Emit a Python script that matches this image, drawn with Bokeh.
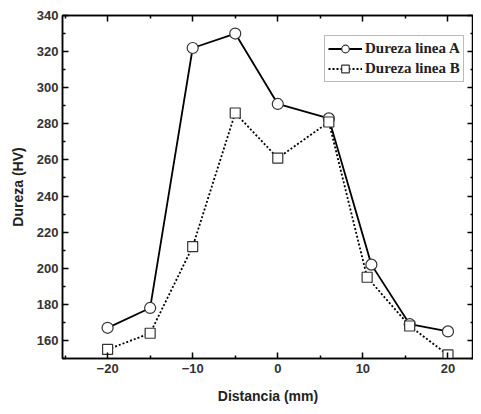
from bokeh.plotting import figure
from bokeh.models import LinearAxis, Range1d, Legend, LegendItem, FixedTicker, CustomJSTickFormatter
from bokeh.embed import file_html
from bokeh.resources import INLINE

# Data
dist_a = [-20, -15, -10, -5, 0, 6, 11, 15.5, 20]
dureza_a = [167, 178, 322, 330, 291, 283, 202, 169, 165]
dist_b = [-20, -15, -10, -5, 0, 6, 10.5, 15.5, 20]
dureza_b = [155, 164, 212, 286, 261, 281, 195, 168, 152]
label_a = "Dureza linea A"
label_b = "Dureza linea B"
x_ticks = [-20, -10, 0, 10, 20]
x_minor = [-25, -15, -5, 5, 15]
y_ticks = [160, 180, 200, 220, 240, 260, 280, 300, 320, 340]
y_minor = [150, 170, 190, 210, 230, 250, 270, 290, 310, 330]

p = figure(width=473, height=406, output_backend="svg", toolbar_location=None,
           x_range=Range1d(-25.3, 23), y_range=Range1d(150, 340),
           x_axis_label="Distancia (mm)", y_axis_label="Dureza (HV)")
p.background_fill_color = "white"
p.border_fill_color = "white"
p.grid.visible = False
p.outline_line_color = "black"
p.outline_line_width = 1.5
p.min_border_top = 15
p.min_border_right = 0
p.min_border_left = 62

def style_axis(ax, labels=True):
    ax.major_tick_in = 6
    ax.major_tick_out = 0
    ax.minor_tick_in = 3
    ax.minor_tick_out = 0
    ax.axis_line_width = 1.5
    ax.major_tick_line_width = 1.5
    ax.minor_tick_line_width = 1.5
    ax.major_label_text_font = "Liberation Sans"
    ax.major_label_text_font_style = "bold"
    ax.major_label_text_font_size = "13px"
    ax.major_label_text_color = "#333333"
    ax.axis_label_text_font = "Liberation Sans"
    ax.axis_label_text_font_style = "bold"
    ax.axis_label_text_font_size = "14px"
    ax.axis_label_text_color = "#222222"
    if not labels:
        ax.formatter = CustomJSTickFormatter(code="return ''")
        ax.major_label_text_font_size = "1px"
        ax.major_label_standoff = 0

xa = p.xaxis[0]
ya = p.yaxis[0]
xa.ticker = FixedTicker(ticks=x_ticks, minor_ticks=x_minor)
ya.ticker = FixedTicker(ticks=y_ticks, minor_ticks=y_minor)
style_axis(xa)
style_axis(ya)
xa.axis_label_standoff = 12
ya.axis_label_standoff = 8
ya.major_label_standoff = 4

top = LinearAxis(ticker=FixedTicker(ticks=x_ticks, minor_ticks=x_minor))
style_axis(top, labels=False)
p.add_layout(top, "above")
right = LinearAxis(ticker=FixedTicker(ticks=y_ticks, minor_ticks=y_minor))
style_axis(right, labels=False)
p.add_layout(right, "right")

la = p.line(dist_a, dureza_a, line_color="black", line_width=1.8)
ma = p.scatter(dist_a, dureza_a, marker="circle", size=11, fill_color="white",
               line_color="#333333", line_width=1.2)
lb = p.line(dist_b, dureza_b, line_color="black", line_width=1.8, line_dash="2 2")
mb = p.scatter(dist_b, dureza_b, marker="square", size=10, fill_color="white",
               line_color="#333333", line_width=1.2)

legend = Legend(items=[LegendItem(label=label_a, renderers=[la, ma]),
                       LegendItem(label=label_b, renderers=[lb, mb])],
                location=(262, 276))
legend.label_text_font = "Liberation Serif"
legend.label_text_font_style = "bold"
legend.label_text_font_size = "15px"
legend.label_text_color = "#222222"
legend.border_line_color = "#777777"
legend.border_line_width = 1.5
legend.padding = 3
legend.spacing = 1
legend.margin = 0
legend.glyph_width = 34
legend.glyph_height = 19
legend.label_height = 19
legend.label_standoff = 3
p.add_layout(legend, "center")

open("out.html", "w").write(file_html(p, INLINE))
